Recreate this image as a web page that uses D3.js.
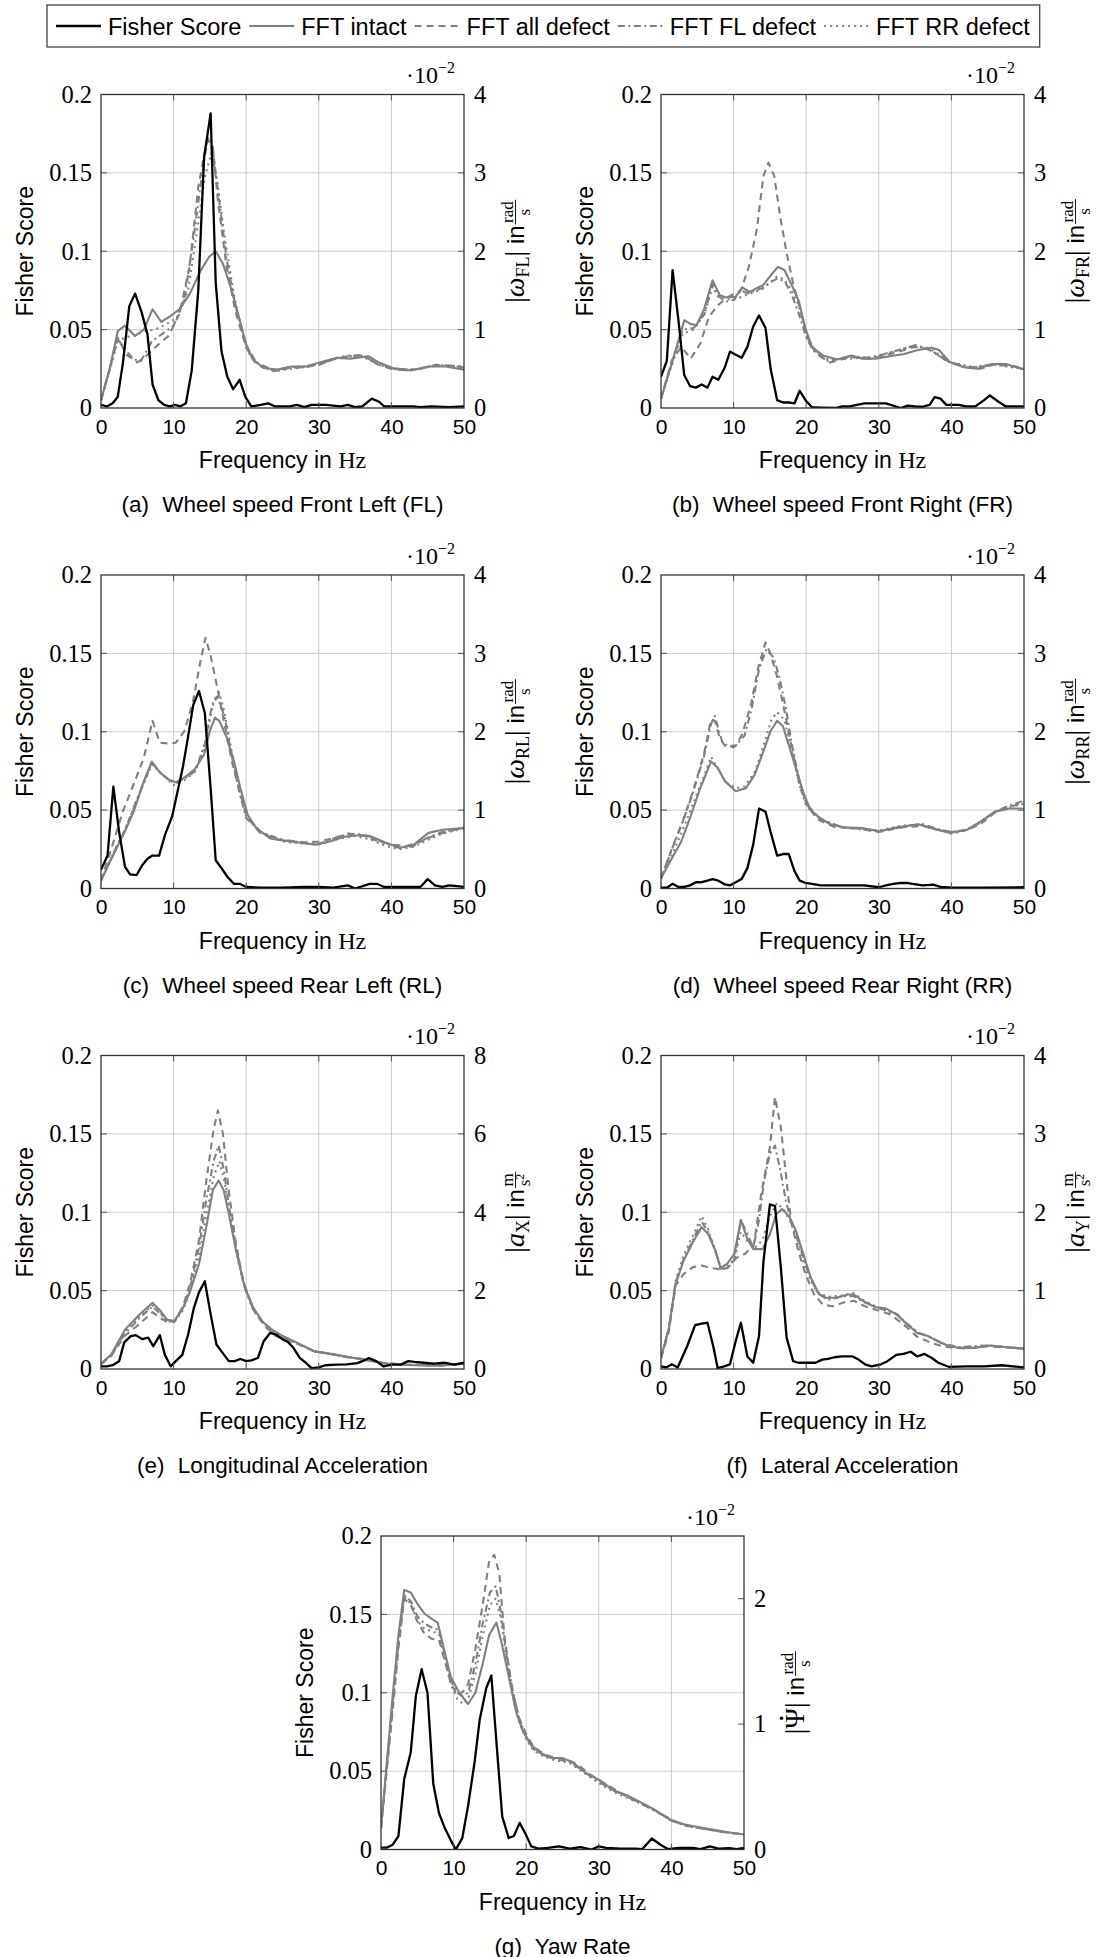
<!DOCTYPE html>
<html>
<head>
<meta charset="utf-8">
<script src="https://cdn.jsdelivr.net/npm/d3@7"></script>
<style>
  body { margin: 0; background: #fff; }
  svg { display: block; }
</style>
</head>
<body>
<div id="container"></div>
<script>
// ---- tick values and labels ----
const xTicks = [0, 10, 20, 30, 40, 50];
const fisherTicks = [0, 0.05, 0.1, 0.15, 0.2];
const legendLabels = ["Fisher Score", "FFT intact", "FFT all defect", "FFT FL defect", "FFT RR defect"];

// ---- (a) wheel speed FL : [frequency Hz, value] ; FFT values in 1e-2 ----
const fisherFL = [[0,.002],[0.8,.001],[1.6,.003],[2.3,.007],[3.0,.028],[3.9,.065],[4.7,.073],[5.6,.061],[6.4,.047],[7.1,.015],[7.9,.005],[8.7,.002],[9.5,.001],[10.2,.002],[10.9,.001],[11.7,.003],[12.5,.024],[13.4,.075],[14.2,.16],[15.1,.188],[15.8,.08],[16.6,.036],[17.4,.02],[18.2,.012],[19.1,.018],[19.9,.007],[20.7,.001],[22,.002],[23,.003],[24,.001],[26,.001],[27,.002],[28,.0005],[29,.002],[31,.002],[33,.001],[34,.002],[35,.0005],[36,.001],[37.3,.006],[38.3,.004],[39,.001],[42,.001],[43,.001],[44,.0005],[45.5,.001],[48,.0005],[50,.001]];
const intactFL = [[0,.1],[1.2,.5],[2.3,.98],[3.3,1.05],[4.7,.92],[5.9,1.0],[7.1,1.26],[8.3,1.1],[9.5,1.17],[10.8,1.26],[12.2,1.45],[13.7,1.75],[14.9,1.93],[15.8,2.0],[16.8,1.84],[18,1.5],[19,1.16],[20,.81],[20.9,.62],[22.4,.51],[24.3,.49],[26.2,.53],[28.2,.53],[30.1,.58],[32.5,.64],[34.4,.63],[36.9,.66],[38.3,.58],[40.2,.51],[42.7,.48],[45.1,.53],[47.5,.53],[50,.49]];
const allDefFL = [[0,.1],[1.2,.5],[2.3,.9],[3.5,.68],[5,.58],[6.4,.68],[7.9,.81],[9.3,.92],[10.8,1.2],[12.2,1.8],[13.4,2.82],[14.6,3.42],[15.4,3.34],[16.1,2.65],[17.3,1.8],[18.5,1.24],[20,.77],[21.4,.56],[23.8,.47],[26,.51],[28,.52],[30,.55],[32,.62],[34,.66],[36,.68],[38,.56],[40,.5],[42,.48],[44,.5],[46,.55],[48,.54],[50,.52]];
const flDefFL = [[0,.1],[1.2,.5],[2.3,.88],[3.3,.75],[4.5,.62],[5.5,.6],[7,.85],[8.5,.95],[10,1.05],[11.5,1.4],[12.8,2.2],[13.8,2.9],[14.7,3.45],[15.4,3.3],[16.2,2.7],[17.3,1.9],[18.5,1.3],[20,.8],[21.4,.58],[23.8,.48],[26,.52],[28,.53],[30,.56],[32,.62],[34,.66],[36,.67],[38,.57],[40,.5],[42,.49],[44,.5],[46,.54],[48,.54],[50,.53]];
const rrDefFL = [[0,.1],[1.2,.48],[2.3,.85],[3.3,.9],[4.7,.93],[6,.98],[7.4,1.0],[9,1.07],[10.5,1.15],[12,1.5],[13.3,2.3],[14.3,2.95],[15.2,3.25],[16,2.9],[17,2.2],[18.3,1.45],[19.5,.95],[20.5,.68],[22,.53],[24,.47],[26,.5],[28,.52],[30,.56],[32,.63],[34,.67],[36,.66],[38,.56],[40,.5],[42,.48],[44,.5],[46,.55],[48,.54],[50,.52]];

// ---- (b) wheel speed FR ----
const fisherFR = [[0,.02],[0.8,.03],[1.6,.088],[2.4,.056],[3.2,.021],[4,.014],[4.8,.013],[5.6,.015],[6.4,.013],[7.1,.02],[7.9,.018],[8.8,.026],[9.5,.036],[10.3,.034],[11.1,.032],[11.9,.039],[12.7,.052],[13.5,.059],[14.4,.051],[15.1,.025],[16,.005],[16.8,.0035],[17.6,.0035],[18.4,.003],[19.1,.011],[19.9,.005],[20.8,.0005],[22,.0003],[24,0],[25,.001],[26,.001],[28,.003],[30,.003],[31,.003],[33,0],[34,.0015],[35,.001],[36,.0008],[37,.002],[37.7,.007],[38.5,.006],[39.3,.002],[41,.002],[42,.001],[43.3,.001],[44.5,.005],[45.3,.008],[46.5,.004],[47.5,.001],[50,.001]];
const intactFR = [[0,.12],[1.8,.67],[3.2,1.12],[4.1,1.07],[4.9,1.06],[5.9,1.25],[7.1,1.63],[8.1,1.44],[9,1.41],[10.3,1.42],[11.2,1.54],[12.2,1.48],[13.2,1.53],[14.1,1.57],[15.1,1.69],[16.1,1.8],[17,1.76],[18,1.57],[19,1.36],[19.9,1.01],[20.8,.78],[22.3,.67],[24.3,.62],[26.2,.67],[27.7,.63],[29.6,.63],[31.5,.66],[33.5,.69],[35.4,.74],[37.3,.77],[38.3,.74],[39.7,.59],[41.7,.52],[43.6,.5],[45.6,.56],[47.5,.56],[50,.49]];
const allDefFR = [[0,.12],[1.5,.61],[2.8,.78],[4.1,.63],[5.4,.82],[6.6,1.16],[7.8,1.31],[9.3,1.42],[11,1.5],[12.1,1.8],[13.2,2.28],[14.1,2.96],[14.8,3.13],[15.6,2.96],[16.4,2.45],[17.3,1.98],[18.2,1.59],[19.2,1.25],[20.2,.89],[21.4,.69],[23.3,.58],[26,.65],[29,.63],[32,.7],[35,.78],[37,.75],[39,.62],[42,.52],[44,.5],[46,.56],[48,.55],[50,.5]];
const flDefFR = [[0,.12],[1.6,.6],[3,1.0],[4.5,1.02],[6,1.2],[7.1,1.58],[8,1.42],[9,1.36],[10,1.38],[11,1.5],[12,1.46],[13,1.5],[14,1.53],[15,1.6],[16,1.65],[17,1.62],[18,1.45],[19,1.2],[20,.9],[21,.73],[23,.6],[26,.66],[29,.64],[32,.72],[35,.8],[37,.74],[40,.57],[43,.52],[46,.56],[50,.5]];
const rrDefFR = [[0,.12],[1.6,.58],[3,.95],[4.5,1.0],[6,1.2],[7.1,1.55],[8,1.4],[10,1.38],[12,1.45],[14,1.52],[16,1.68],[17,1.64],[18,1.5],[19,1.3],[20,.95],[21,.75],[23,.62],[26,.63],[29,.65],[32,.72],[35,.8],[37,.76],[40,.58],[43,.52],[46,.55],[50,.5]];

// ---- (c) wheel speed RL ----
const fisherRL = [[0,.012],[0.9,.021],[1.7,.065],[2.5,.036],[3.3,.014],[4,.009],[4.9,.0086],[5.7,.015],[6.4,.019],[7.1,.021],[8,.021],[8.8,.034],[9.8,.046],[10.5,.061],[11.3,.078],[12,.097],[12.7,.117],[13.5,.126],[14.3,.112],[15.1,.064],[15.8,.018],[16.6,.013],[17.4,.0075],[18.3,.003],[19.1,.003],[20,.001],[22,.0005],[25,.0005],[28,.001],[30,.001],[32,.0005],[34,.002],[35,0],[37,.003],[38,.003],[39,.001],[42,.001],[44,.001],[45,.006],[46,.002],[47,.001],[48,.002],[50,.001]];
const intactRL = [[0,.1],[1.7,.43],[3.3,.73],[4.5,.98],[5.9,1.37],[7,1.62],[8.1,1.48],[9.3,1.39],[10.5,1.35],[11.7,1.43],[12.9,1.52],[14.2,1.71],[15,2.01],[15.7,2.18],[16.3,2.14],[17.3,1.93],[18.3,1.63],[19.2,1.28],[20.2,.94],[21.4,.77],[23.3,.64],[25.3,.61],[27.7,.58],[29.6,.56],[31.5,.6],[33.5,.66],[35.4,.68],[37.3,.66],[39.3,.58],[41.2,.52],[43.1,.56],[45.1,.71],[47,.75],[50,.77]];
const allDefRL = [[0,.1],[1.6,.56],[3,.98],[4.5,1.33],[5.9,1.67],[7.1,2.14],[8.1,1.86],[9.3,1.85],[10.3,1.86],[11.5,2.01],[12.7,2.4],[13.7,2.9],[14.4,3.2],[15.1,2.97],[16,2.57],[17,2.1],[18,1.63],[19.2,1.2],[20.2,.9],[21.9,.71],[24,.63],[28,.59],[30,.6],[32,.64],[34,.7],[36,.68],[38,.61],[40,.56],[42,.54],[44,.6],[46,.68],[48,.73],[50,.78]];
const flDefRL = [[0,.1],[1.7,.45],[3.3,.75],[5,1.15],[7,1.6],[8.5,1.45],[10,1.35],[11.5,1.4],[13,1.5],[14.3,1.85],[15.2,2.3],[16,2.45],[17,2.2],[18,1.7],[19,1.25],[20,.9],[22,.72],[25,.62],[28,.58],[30,.57],[33,.67],[35,.7],[37,.67],[39,.58],[41,.52],[43,.54],[45,.65],[47,.72],[50,.78]];
const rrDefRL = [[0,.1],[1.7,.45],[3.3,.74],[5,1.15],[7,1.58],[8.5,1.45],[10,1.32],[11.5,1.38],[13,1.5],[14.3,1.8],[15.5,2.4],[16.3,2.5],[17,2.25],[18,1.75],[19,1.3],[20,.92],[22,.72],[25,.6],[28,.57],[30,.56],[33,.64],[35,.67],[37,.63],[39,.55],[41,.5],[43,.53],[45,.62],[47,.7],[50,.77]];

// ---- (d) wheel speed RR ----
const fisherRR = [[0,.0005],[0.8,.0005],[1.6,.003],[2.4,.001],[3.2,.001],[4,.002],[4.8,.004],[5.6,.004],[6.4,.005],[7.1,.006],[7.9,.005],[8.8,.0026],[9.5,.002],[10.3,.004],[11.1,.006],[11.9,.013],[12.7,.028],[13.5,.051],[14.4,.049],[15.1,.036],[16,.021],[16.8,.022],[17.6,.022],[18.4,.011],[19.1,.005],[19.9,.0036],[20.8,.003],[22,.002],[24,.002],[26,.002],[28,.002],[30,.0008],[31,.002],[32,.003],[33,.0035],[34,.0035],[36,.002],[37.5,.0025],[38.5,.001],[40,.0005],[45,.0005],[50,.0008]];
const intactRR = [[0,.13],[1.1,.32],[2.8,.6],[4,.9],[5.4,1.28],[6.9,1.62],[7.8,1.54],[8.8,1.37],[10.3,1.24],[11.7,1.28],[12.9,1.45],[14.1,1.75],[15.1,2.01],[16,2.14],[16.8,2.07],[17.7,1.8],[18.7,1.5],[19.7,1.2],[20.6,1.0],[21.9,.9],[23.3,.82],[25.2,.78],[27.7,.77],[30.1,.73],[32.5,.78],[35.4,.82],[37.3,.77],[39.7,.71],[42.2,.75],[44.1,.86],[46,.98],[48,1.02],[50,1.02]];
const allDefRR = [[0,.13],[1.5,.51],[3,.86],[4.4,1.24],[5.9,1.71],[6.9,2.16],[7.4,2.14],[8.1,1.92],[8.8,1.82],[10.3,1.82],[11.2,1.97],[12.4,2.35],[13.4,2.82],[14.4,3.14],[15.1,2.99],[16,2.7],[17,2.27],[18,1.8],[19.2,1.28],[20.2,1.05],[21.6,.88],[24,.78],[27,.77],[30,.72],[33,.78],[36,.8],[38,.75],[40,.72],[42,.74],[44,.82],[46,.97],[48,1.04],[50,1.1]];
const flDefRR = [[0,.13],[1.5,.5],[3,.85],[4.4,1.22],[5.9,1.68],[6.9,2.1],[7.4,2.2],[8.5,1.85],[10,1.8],[11.5,1.95],[12.5,2.3],[13.5,2.8],[14.5,3.05],[15.5,2.95],[16.3,2.7],[17.2,2.3],[18,1.85],[19,1.4],[20,1.08],[22,.88],[25,.78],[30,.73],[33,.78],[36,.82],[38,.76],[40,.72],[42,.75],[44,.84],[46,.98],[48,1.06],[50,1.12]];
const rrDefRR = [[0,.13],[1.5,.42],[3,.75],[4.5,1.1],[6,1.45],[6.9,1.68],[8,1.5],[9,1.35],[10.3,1.28],[11.5,1.3],[13,1.5],[14.2,1.85],[15.2,2.15],[16,2.25],[17,2.15],[18,1.75],[19,1.35],[20,1.05],[22,.88],[25,.78],[30,.74],[33,.8],[36,.82],[38,.76],[40,.7],[42,.74],[44,.85],[46,.98],[48,1.04],[50,1.08]];

// ---- (e) longitudinal acceleration ----
const fisherAX = [[0,.0017],[0.8,.0017],[1.6,.0024],[2.5,.005],[3.2,.017],[4.1,.021],[4.8,.0216],[5.7,.019],[6.5,.02],[7.2,.0145],[8.1,.0216],[8.8,.009],[9.6,.0017],[10.3,.005],[11.2,.009],[12,.022],[12.8,.039],[13.5,.049],[14.3,.056],[15.1,.035],[15.9,.0156],[16.8,.01],[17.6,.005],[18.4,.005],[19.2,.0064],[20,.005],[20.7,.0055],[21.6,.007],[22.4,.0177],[23.3,.023],[24.1,.022],[25,.019],[25.8,.017],[26.5,.0135],[27.4,.007],[28.2,.004],[29,.0006],[30,.001],[30.9,.0024],[32.4,.0028],[33.8,.003],[35.3,.0038],[36.2,.0053],[36.9,.007],[37.9,.005],[38.9,.0017],[40.1,.0028],[41.3,.0028],[42.3,.005],[43.2,.0045],[44.4,.004],[45.9,.0034],[47.3,.004],[48.6,.0028],[50,.004]];
const intactAX = [[0,.13],[1.4,.37],[3.3,1.0],[5.3,1.39],[7.1,1.69],[8.2,1.48],[9.1,1.26],[10.1,1.22],[11.3,1.56],[12.3,1.99],[13.5,2.68],[14.5,3.62],[15.4,4.56],[16.2,4.81],[16.9,4.56],[17.6,3.96],[18.6,3.02],[19.8,2.08],[21,1.56],[22.2,1.22],[23.6,1.0],[25.1,.84],[27,.67],[29.4,.45],[31.9,.38],[34.3,.3],[36.7,.22],[39.1,.14],[41.5,.11],[44,.09],[46.9,.085],[50,.14]];
const allDefAX = [[0,.13],[1.4,.33],[3.3,.85],[5.3,1.15],[7.1,1.45],[8.2,1.3],[9.1,1.2],[10.1,1.2],[11.3,1.6],[12.3,2.2],[13.5,3.3],[14.5,4.8],[15.5,6.1],[16.1,6.6],[16.8,6.0],[17.5,4.7],[18.5,3.3],[19.5,2.3],[21,1.5],[22.5,1.1],[24,.85],[25.5,.75],[27,.65],[29.4,.45],[32,.37],[34,.3],[37,.24],[39,.15],[42,.11],[45,.1],[47,.1],[50,.13]];
const flDefAX = [[0,.13],[1.4,.35],[3.3,.9],[5.3,1.3],[7.1,1.6],[8.2,1.4],[9.1,1.25],[10.1,1.22],[11.3,1.55],[12.3,2.1],[13.5,3.1],[14.5,4.3],[15.5,5.3],[16.2,5.7],[16.9,5.1],[17.6,4.2],[18.6,3.1],[19.8,2.1],[21,1.5],[22.5,1.15],[24,.9],[25.5,.78],[27,.65],[29.4,.45],[32,.37],[34,.3],[37,.23],[39,.15],[42,.11],[45,.1],[47,.1],[50,.13]];
const rrDefAX = [[0,.13],[1.4,.35],[3.3,.95],[5.3,1.35],[7.1,1.62],[8.2,1.42],[9.1,1.22],[10.1,1.2],[11.3,1.5],[12.3,2.0],[13.5,2.9],[14.5,3.9],[15.5,4.9],[16.3,5.3],[17,4.8],[17.7,4.0],[18.6,3.0],[19.8,2.05],[21,1.5],[22.5,1.15],[24,.92],[25.5,.8],[27,.66],[29.4,.46],[32,.38],[34,.3],[37,.23],[39,.15],[42,.11],[45,.1],[47,.1],[50,.13]];

// ---- (f) lateral acceleration ----
const fisherAY = [[0,.0017],[0.7,.001],[1.5,.003],[2.3,.001],[3.6,.0145],[4.7,.028],[5.6,.029],[6.4,.0295],[7.2,.0145],[7.8,.0006],[8.7,.0017],[9.5,.003],[10.3,.018],[11,.0295],[11.9,.008],[12.7,.004],[13.5,.021],[14.1,.068],[15,.105],[15.7,.104],[16.5,.065],[17.3,.02],[18.2,.005],[18.9,.004],[19.8,.004],[21.3,.004],[22.2,.006],[23,.0064],[23.9,.0075],[24.9,.008],[26.4,.008],[27.2,.006],[28.1,.003],[29,.0017],[30.3,.003],[31.2,.005],[32.4,.009],[33.4,.0096],[34.4,.011],[35.3,.008],[36.3,.0096],[37.3,.007],[38.2,.004],[39.7,.0013],[42.1,.0017],[44.5,.0017],[46.9,.0024],[50,.001]];
const intactAY = [[0,.14],[1.1,.53],[2,1.08],[3.1,1.38],[4.4,1.62],[5.6,1.81],[6.5,1.72],[7.5,1.51],[8.2,1.29],[9.1,1.34],[10.1,1.47],[11,1.9],[11.9,1.66],[12.7,1.53],[14,1.53],[15,1.72],[15.9,1.98],[16.7,2.04],[17.7,1.94],[18.6,1.76],[19.6,1.47],[20.6,1.17],[21.8,.95],[22.7,.91],[24.2,.91],[25.7,.95],[26.6,.95],[27.8,.87],[29.5,.79],[31,.77],[32.4,.7],[33.9,.57],[35.3,.46],[36.8,.42],[38.2,.35],[39.7,.29],[41.1,.27],[43.1,.27],[45.5,.3],[47.4,.28],[50,.26]];
const allDefAY = [[0,.14],[1.1,.48],[2,1.06],[3.1,1.21],[4.4,1.3],[5.6,1.32],[6.8,1.29],[8.2,1.27],[9.2,1.29],[10.4,1.42],[11.6,1.47],[12.8,1.59],[13.8,2.23],[15,2.83],[15.7,3.47],[16.5,3.09],[17.2,2.49],[17.9,1.89],[18.9,1.51],[19.9,1.21],[21.1,.95],[22.3,.82],[23.7,.8],[25.2,.85],[26.6,.87],[28.1,.8],[29.5,.76],[31.5,.7],[33.4,.57],[35.3,.41],[37.3,.33],[39.2,.28],[42.1,.26],[45,.29],[50,.26]];
const flDefAY = [[0,.14],[1.1,.52],[2,1.1],[3.1,1.4],[4.4,1.65],[5.6,1.88],[6.5,1.75],[7.5,1.5],[8.2,1.28],[9.1,1.28],[10.1,1.4],[11,1.9],[12,1.7],[12.7,1.55],[13.5,1.9],[14.2,2.4],[15,2.75],[15.7,2.85],[16.4,2.55],[17.2,2.15],[18,1.85],[19,1.6],[20,1.3],[21.5,.98],[23,.88],[25,.93],[26.5,.93],[28,.85],[30,.78],[32.5,.7],[34,.57],[35.5,.46],[37,.41],[39,.32],[41,.28],[45,.3],[50,.26]];
const rrDefAY = [[0,.14],[1.1,.52],[2,1.12],[3.1,1.45],[4.4,1.7],[5.6,1.95],[6.5,1.78],[7.5,1.5],[8.2,1.3],[9.1,1.3],[10.1,1.4],[11,1.75],[12,1.62],[13,1.55],[14,1.65],[15,1.95],[16,2.12],[17,2.02],[18,1.85],[19,1.55],[20,1.25],[21.5,.98],[23,.92],[25,.94],[26.5,.97],[28,.87],[30,.78],[32.5,.7],[34,.56],[35.5,.46],[37,.41],[39,.31],[41,.27],[45,.3],[50,.26]];

// ---- (g) yaw rate ----
const fisherYaw = [[0,.0012],[0.8,.0012],[1.6,.003],[2.4,.0086],[3.2,.045],[4.1,.062],[4.8,.098],[5.6,.115],[6.4,.1],[7.2,.042],[8,.023],[8.8,.0135],[9.6,.006],[10.3,0],[11.2,.0073],[12,.028],[12.9,.056],[13.6,.083],[14.5,.103],[15.2,.111],[15.9,.0685],[16.7,.021],[17.6,.0073],[18.3,.0086],[19.1,.017],[19.9,.01],[20.7,.002],[21.7,.0005],[23,.001],[24.5,.002],[26,.0005],[27.5,.0015],[29,0],[30,.002],[31,.001],[33,.0005],[35,.0005],[36,.0003],[37.3,.007],[38.5,.003],[39.5,.0003],[41,.001],[43,.001],[44,.0003],[45.3,.002],[46.5,.0005],[48,.0008],[49,.0003],[50,.001]];
const intactYaw = [[0,.17],[1.6,1.22],[2.4,1.71],[3.2,2.07],[4.1,2.05],[5,1.96],[6,1.88],[7,1.84],[7.8,1.81],[8.7,1.59],[9.6,1.38],[10.6,1.27],[11.3,1.21],[12,1.16],[13,1.25],[14,1.48],[14.9,1.71],[15.9,1.81],[16.6,1.65],[17.6,1.38],[18.6,1.1],[19.5,.95],[20.7,.83],[22,.77],[23.4,.73],[24.9,.73],[26.3,.7],[28.2,.61],[30.2,.55],[32.1,.47],[34,.43],[36,.37],[37.9,.31],[39.8,.24],[41.8,.2],[43.7,.18],[45.6,.16],[47.6,.14],[50,.12]];
const allDefYaw = [[0,.17],[1.6,1.1],[2.4,1.6],[3.2,2.0],[4.1,1.95],[5,1.82],[6,1.72],[7,1.68],[8,1.67],[8.8,1.5],[9.6,1.33],[10.5,1.23],[11.3,1.26],[12,1.32],[13,1.6],[14,1.95],[14.9,2.3],[15.6,2.35],[16.3,2.2],[17,1.7],[18,1.3],[19,1.05],[20,.92],[21,.82],[22.5,.76],[24,.73],[25.5,.72],[27,.68],[29,.59],[31,.52],[33,.45],[35,.39],[37,.34],[39,.27],[41,.21],[43,.18],[45,.16],[47,.14],[50,.12]];
const flDefYaw = [[0,.17],[1.6,1.15],[2.4,1.65],[3.2,2.03],[4.1,1.98],[5,1.86],[6,1.8],[7,1.77],[8,1.75],[8.8,1.55],[9.6,1.35],[10.5,1.25],[11.3,1.22],[12,1.25],[13,1.48],[14,1.8],[15,2.05],[15.8,2.1],[16.5,1.9],[17.3,1.55],[18.2,1.25],[19,1.05],[20,.9],[21,.8],[22.5,.75],[24,.72],[26,.7],[28,.62],[30,.54],[32,.47],[34,.42],[36,.36],[38,.3],[40,.23],[42,.19],[44,.17],[47,.14],[50,.12]];
const rrDefYaw = [[0,.17],[1.6,1.15],[2.4,1.65],[3.2,2.02],[4.1,1.96],[5,1.82],[6,1.76],[7,1.74],[8,1.72],[8.8,1.52],[9.6,1.32],[10.5,1.2],[11.3,1.16],[12,1.2],[13,1.4],[14,1.7],[15,1.95],[15.8,2.0],[16.5,1.85],[17.3,1.5],[18.2,1.2],[19,1.02],[20,.88],[21,.79],[22.5,.74],[24,.71],[26,.69],[28,.61],[30,.53],[32,.46],[34,.41],[36,.36],[38,.3],[40,.23],[42,.19],[44,.17],[47,.14],[50,.12]];

// ---- panel table built from the arrays ----
const panels = [
  {tag: "(a)", title: "Wheel speed Front Left (FL)", left: 101, row: 0, rMax: 4, rTicks: [0,1,2,3,4], sym: "ω", italic: true, sub: "FL", num: "rad", den: "s", fisher: fisherFL, fft: [intactFL, allDefFL, flDefFL, rrDefFL]},
  {tag: "(b)", title: "Wheel speed Front Right (FR)", left: 661, row: 0, rMax: 4, rTicks: [0,1,2,3,4], sym: "ω", italic: true, sub: "FR", num: "rad", den: "s", fisher: fisherFR, fft: [intactFR, allDefFR, flDefFR, rrDefFR]},
  {tag: "(c)", title: "Wheel speed Rear Left (RL)", left: 101, row: 1, rMax: 4, rTicks: [0,1,2,3,4], sym: "ω", italic: true, sub: "RL", num: "rad", den: "s", fisher: fisherRL, fft: [intactRL, allDefRL, flDefRL, rrDefRL]},
  {tag: "(d)", title: "Wheel speed Rear Right (RR)", left: 661, row: 1, rMax: 4, rTicks: [0,1,2,3,4], sym: "ω", italic: true, sub: "RR", num: "rad", den: "s", fisher: fisherRR, fft: [intactRR, allDefRR, flDefRR, rrDefRR]},
  {tag: "(e)", title: "Longitudinal Acceleration", left: 101, row: 2, rMax: 8, rTicks: [0,2,4,6,8], sym: "a", italic: true, sub: "X", num: "m", den: "s", sq: true, fisher: fisherAX, fft: [intactAX, allDefAX, flDefAX, rrDefAX]},
  {tag: "(f)", title: "Lateral Acceleration", left: 661, row: 2, rMax: 4, rTicks: [0,1,2,3,4], sym: "a", italic: true, sub: "Y", num: "m", den: "s", sq: true, fisher: fisherAY, fft: [intactAY, allDefAY, flDefAY, rrDefAY]},
  {tag: "(g)", title: "Yaw Rate", left: 381, row: 3, rMax: 2.5, rTicks: [0,1,2], sym: "Ψ", italic: false, dot: true, sub: null, num: "rad", den: "s", fisher: fisherYaw, fft: [intactYaw, allDefYaw, flDefYaw, rrDefYaw]}
];

const SANS = "'Liberation Sans', Arial, Helvetica, sans-serif";
const SERIF = "'Liberation Serif', 'Times New Roman', serif";
const GRAY = "#808080";
const GRID = "#cccccc";
const PW = 363, PH = 313.5, ROW_Y0 = 94.5, ROW_STEP = 480.5;

const styles = [
  {color: "#000", dash: null, w: 2.3},
  {color: GRAY, dash: null, w: 2.1},
  {color: GRAY, dash: "7,5", w: 2.1},
  {color: GRAY, dash: "7,3.5,2,3.5", w: 2.1},
  {color: GRAY, dash: "2,4", w: 2.1}
];

const svg = d3.select("#container").append("svg")
  .attr("width", 1096)
  .attr("height", 1957);

// ---- legend ----
const legend = svg.append("g");
const legBox = legend.append("rect")
  .attr("y", 5).attr("height", 42)
  .attr("fill", "#fff").attr("stroke", "#333").attr("stroke-width", 1.2);
let lx = 56;
legendLabels.forEach((lab, i) => {
  const st = styles[i];
  legend.append("line")
    .attr("x1", lx).attr("x2", lx + 45).attr("y1", 26).attr("y2", 26)
    .attr("stroke", st.color).attr("stroke-width", st.w)
    .attr("stroke-dasharray", st.dash);
  lx += 52;
  const t = legend.append("text")
    .attr("x", lx).attr("y", 34.5)
    .attr("font-family", SANS).attr("font-size", 23.5)
    .text(lab);
  lx += t.node().getComputedTextLength() + 8;
});
legBox.attr("x", 47).attr("width", lx - 8 + 10 - 47);

// ---- panels ----
panels.forEach((p, i) => {
  const g = svg.append("g")
    .attr("transform", `translate(${p.left},${ROW_Y0 + ROW_STEP * p.row})`);

  const x = d3.scaleLinear().domain([0, 50]).range([0, PW]);
  const yL = d3.scaleLinear().domain([0, 0.2]).range([PH, 0]);
  const yR = d3.scaleLinear().domain([0, p.rMax]).range([PH, 0]);

  // grid
  g.append("g").selectAll("line")
    .data(xTicks.slice(1, -1)).join("line")
    .attr("x1", d => x(d)).attr("x2", d => x(d))
    .attr("y1", 0).attr("y2", PH)
    .attr("stroke", GRID).attr("stroke-width", 1);
  g.append("g").selectAll("line")
    .data(fisherTicks.slice(1, -1)).join("line")
    .attr("x1", 0).attr("x2", PW)
    .attr("y1", d => yL(d)).attr("y2", d => yL(d))
    .attr("stroke", GRID).attr("stroke-width", 1);

  // series
  g.append("clipPath").attr("id", "clip" + i)
    .append("rect").attr("width", PW).attr("height", PH);
  const plot = g.append("g").attr("clip-path", `url(#clip${i})`);
  const lineR = d3.line().x(d => x(d[0])).y(d => yR(d[1]));
  const lineL = d3.line().x(d => x(d[0])).y(d => yL(d[1]));

  p.fft.forEach((s, k) => {
    const st = styles[k + 1];
    plot.append("path").datum(s)
      .attr("d", lineR)
      .attr("fill", "none")
      .attr("stroke", st.color).attr("stroke-width", st.w)
      .attr("stroke-dasharray", st.dash)
      .attr("stroke-linejoin", "round");
  });
  plot.append("path").datum(p.fisher)
    .attr("d", lineL)
    .attr("fill", "none")
    .attr("stroke", "#000").attr("stroke-width", styles[0].w)
    .attr("stroke-linejoin", "round");

  // inward tick marks
  const tk = g.append("g").attr("stroke", "#555").attr("stroke-width", 1);
  xTicks.slice(1, -1).forEach(v => {
    tk.append("line").attr("x1", x(v)).attr("x2", x(v)).attr("y1", PH).attr("y2", PH - 6);
    tk.append("line").attr("x1", x(v)).attr("x2", x(v)).attr("y1", 0).attr("y2", 6);
  });
  fisherTicks.slice(1, -1).forEach(v => {
    tk.append("line").attr("x1", 0).attr("x2", 6).attr("y1", yL(v)).attr("y2", yL(v));
  });
  p.rTicks.filter(v => v > 0 && v < p.rMax).forEach(v => {
    tk.append("line").attr("x1", PW).attr("x2", PW - 6).attr("y1", yR(v)).attr("y2", yR(v));
  });

  // frame
  g.append("rect")
    .attr("width", PW).attr("height", PH)
    .attr("fill", "none").attr("stroke", "#333").attr("stroke-width", 1.3);

  // axes (labels only)
  g.append("g")
    .attr("transform", `translate(0,${PH})`)
    .call(d3.axisBottom(x).tickValues(xTicks).tickSize(0).tickPadding(11))
    .call(a => a.select(".domain").remove())
    .attr("font-family", SANS).attr("font-size", 21);
  g.append("g")
    .call(d3.axisLeft(yL).tickValues(fisherTicks).tickSize(0).tickPadding(9)
      .tickFormat(d => String(d)))
    .call(a => a.select(".domain").remove())
    .attr("font-family", SERIF).attr("font-size", 24.5);
  g.append("g")
    .attr("transform", `translate(${PW},0)`)
    .call(d3.axisRight(yR).tickValues(p.rTicks).tickSize(0).tickPadding(10)
      .tickFormat(d => String(d)))
    .call(a => a.select(".domain").remove())
    .attr("font-family", SERIF).attr("font-size", 24.5);

  // scale factor label
  const sc = g.append("text")
    .attr("x", PW - 9).attr("y", -11.5)
    .attr("text-anchor", "end")
    .attr("font-family", SERIF).attr("font-size", 24);
  sc.append("tspan").text("·10");
  sc.append("tspan").attr("font-size", 16).attr("dy", -10).text("−2");

  // left axis title
  g.append("text")
    .attr("transform", `translate(${-76.5 + 8.2},${PH / 2}) rotate(-90)`)
    .attr("text-anchor", "middle")
    .attr("font-family", SANS).attr("font-size", 23)
    .text("Fisher Score");

  // right axis title
  const rg = g.append("g")
    .attr("transform", `translate(${PW + 60},${PH / 2}) rotate(-90)`);
  const inner = rg.append("g");
  const t = inner.append("text").attr("font-family", SERIF).attr("font-size", 28);
  t.append("tspan").text("|");
  t.append("tspan").attr("font-style", p.italic ? "italic" : "normal").text(p.sym);
  if (p.sub) {
    t.append("tspan").attr("font-size", 18).attr("dy", 5).text(p.sub);
    t.append("tspan").attr("dy", -5).text("|");
  } else {
    t.append("tspan").text("|");
  }
  t.append("tspan").attr("font-family", SANS).attr("font-size", 24).text(" in ");
  if (p.dot) {
    const a0 = t.node().getStartPositionOfChar(1).x;
    const a1 = t.node().getEndPositionOfChar(1).x;
    inner.append("circle").attr("cx", (a0 + a1) / 2).attr("cy", -22.5).attr("r", 1.8).attr("fill", "#000");
  }
  const w1 = t.node().getComputedTextLength();
  const numT = inner.append("text")
    .attr("font-family", SERIF).attr("font-size", 17)
    .attr("text-anchor", "middle").attr("y", -11.5)
    .text(p.num);
  const denT = inner.append("text")
    .attr("font-family", SERIF).attr("font-size", 17)
    .attr("text-anchor", "middle").attr("y", 5.5);
  denT.append("tspan").text(p.den);
  if (p.sq) denT.append("tspan").attr("font-size", 12).attr("dy", -6).text("2");
  const fw = Math.max(numT.node().getComputedTextLength(), denT.node().getComputedTextLength()) + 3;
  const fx = w1 + 1;
  numT.attr("x", fx + fw / 2);
  denT.attr("x", fx + fw / 2);
  inner.append("line")
    .attr("x1", fx).attr("x2", fx + fw)
    .attr("y1", -8.5).attr("y2", -8.5)
    .attr("stroke", "#000").attr("stroke-width", 0.9);
  inner.attr("transform", `translate(${-(fx + fw) / 2},0)`);

  // x axis title
  const xt = g.append("text")
    .attr("x", PW / 2).attr("y", PH + 60)
    .attr("text-anchor", "middle")
    .attr("font-family", SANS).attr("font-size", 23);
  xt.append("tspan").text("Frequency in ");
  xt.append("tspan").attr("font-family", SERIF).attr("font-size", 24).text("Hz");

  // caption
  const cap = g.append("text")
    .attr("x", PW / 2).attr("y", PH + 104)
    .attr("text-anchor", "middle")
    .attr("font-family", SANS).attr("font-size", 22.5);
  cap.append("tspan").text(p.tag);
  cap.append("tspan").attr("dx", 7).text(" " + p.title);
});
</script>
</body>
</html>
